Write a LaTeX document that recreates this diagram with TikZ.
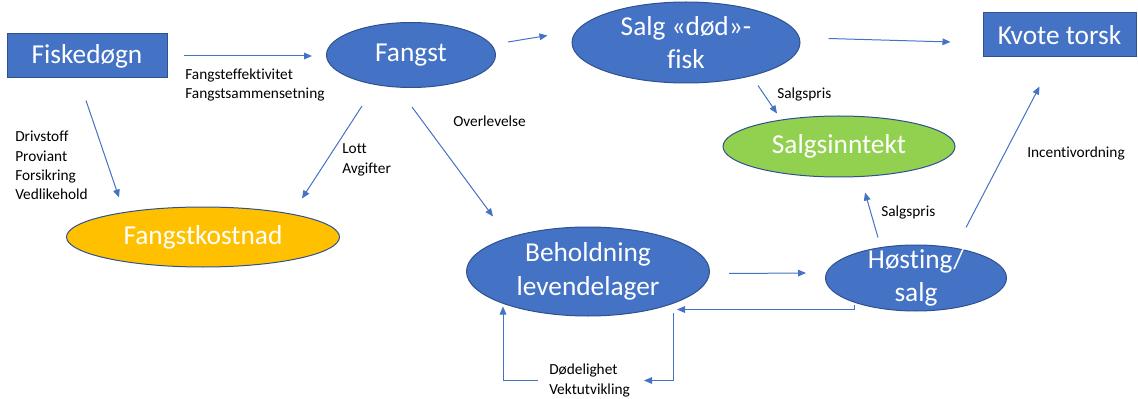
\documentclass[tikz,border=0pt]{standalone}
\usepackage{fontspec}
\setmainfont{Carlito}[Ligatures=NoCommon]
\usetikzlibrary{shapes.geometric, arrows.meta, calc}
\definecolor{boxblue}{HTML}{4472C4}
\definecolor{edgeblue}{HTML}{2F528F}
\definecolor{kostgul}{HTML}{FFC000}
\definecolor{inntektgronn}{HTML}{92D050}

\begin{document}
\begin{tikzpicture}[x=0.75pt, y=-0.75pt,
  bigtext/.style={text=white, font=\fontsize{20.5}{25}\selectfont, align=center},
  box/.style={draw=edgeblue, line width=0.75pt, fill=boxblue, bigtext, inner sep=0pt},
  oval/.style={ellipse, draw=edgeblue, line width=0.75pt, fill=#1, inner sep=0pt},
  oval/.default=boxblue,
  lbl/.style={font=\fontsize{11.5}{14.5}\selectfont, align=left, anchor=west, inner sep=0pt},
  arr/.style={draw=boxblue, line width=0.75pt, -{Triangle[length=6pt,width=5pt]}}]
  % Frame
  \useasboundingbox (0,0) rectangle (1138,399);
  % Boxes
  \node[box, minimum width=120pt, minimum height=33pt] (fisk) at (87,56) {Fiskedøgn};
  \node[box, minimum width=114.75pt, minimum height=33pt] (kvote) at (1059.5,35) {Kvote torsk};
  % Ovals
  \node[oval, minimum width=126.75pt, minimum height=48.75pt,
    label={[bigtext]center:Fangst}] (fangst) at (411,55) {};
  \node[oval, minimum width=171pt, minimum height=60.75pt,
    label={[bigtext]center:{Salg «død»-\\fisk}}] (salg) at (686,42.5) {};
  \node[oval=inntektgronn, minimum width=174pt, minimum height=45.75pt,
    label={[bigtext]center:Salgsinntekt}] (inntekt) at (839,146.5) {};
  \node[oval=kostgul, minimum width=204.75pt, minimum height=45pt,
    label={[bigtext]center:Fangstkostnad}] (kost) at (203,237) {};
  \node[oval, minimum width=182.25pt, minimum height=66.75pt,
    label={[bigtext]center:{Beholdning\\levendelager}}] (behold) at (588,271.5) {};
  \node[oval, minimum width=135.75pt, minimum height=49.5pt,
    label={[bigtext]center:{Høsting/\\salg}}] (hosting) at (916,278) {};
  % Small labels
  \node[lbl] (effekt) at (185,85) {Fangsteffektivitet\\Fangstsammensetning};
  \node[lbl] (drift) at (15,165.5) {Drivstoff\\Proviant\\Forsikring\\Vedlikehold};
  \node[lbl] (lott) at (342,160) {Lott\\Avgifter};
  \node[lbl] (overlev) at (453,121) {Overlevelse};
  \node[lbl] (pris1) at (777,94) {Salgspris};
  \node[lbl] (pris2) at (881,212) {Salgspris};
  \node[lbl] (incentiv) at (1027,153) {Incentivordning};
  \node[lbl] (dod) at (549,380.5) {Dødelighet\\Vektutvikling};
  % Arrows
  \draw[arr] ($(fisk.east)+(16,0)$) -- ($(fangst.west)+(-14,1)$);
  \draw[arr] ($(fisk.south)+(-1,22)$) -- ($(kost.north)+(-84,-9)$);
  \draw[arr] ($(fangst.south)+(-49,18)$) -- ($(kost.north)+(99,-8)$);
  \draw[arr] ($(fangst.east)+(12,-13)$) -- ($(salg.west)+(-24,-7)$);
  \draw[arr] ($(salg.east)+(28,-4)$) -- ($(kvote.west)+(-32,7)$);
  \draw[arr] ($(salg.south)+(72,2)$) -- ($(inntekt.north)+(-62,-2)$);
  \draw[arr] ($(fangst.south)+(1,19)$) -- ($(behold.north)+(-95,-10)$);
  \draw[arr] ($(behold.east)+(19,2)$) -- ($(hosting.west)+(-19,-5)$);
  \draw[arr] ($(hosting.south)+(-62,-7)$) |- ($(behold.south)+(89,-7)$);
  \draw[arr] ($(hosting.north)+(-38,-7)$) -- ($(inntekt.south)+(26,15)$);
  \draw[arr] ($(hosting.north)+(50,-17)$) -- ($(kvote.south)+(-20,29)$);
  % Loop under the stock
  \draw[arr] ($(behold.south)+(85,-4)$) |- ($(dod.east)+(14,0)$);
  \draw[arr] ($(dod.west)+(-11,0)$) -| ($(behold.south)+(-85,-10)$);
\end{tikzpicture}
\end{document}
